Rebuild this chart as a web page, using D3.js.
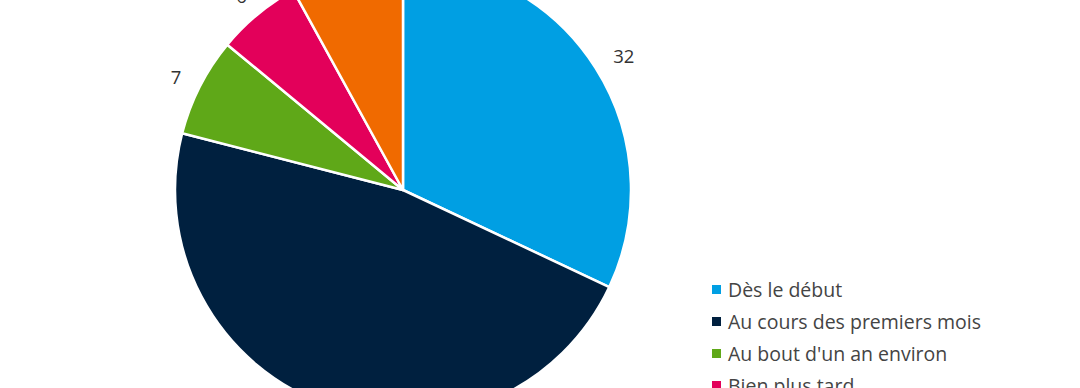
<!DOCTYPE html>
<html><head><meta charset="utf-8">
<script src="https://cdn.jsdelivr.net/npm/d3@7"></script>
<style>body{margin:0;background:#fff;overflow:hidden}</style>
</head><body>
<svg id="c" width="1080" height="388"></svg>
<script>
const categories = ["Dès le début","Au cours des premiers mois","Au bout d'un an environ","Bien plus tard","Jamais"];
const values = [32, 47, 7, 6, 8];
const colors = ["#009FE3","#00203F","#5FA818","#E3005A","#F06A00"];

const svg = d3.select("#c");
const cx = 403, cy = 190, R = 228, Rl = 258;
const pie = d3.pie().sort(null).value(d => d)(values);
const arc = d3.arc().innerRadius(0).outerRadius(R);
const larc = d3.arc().innerRadius(Rl).outerRadius(Rl);
const g = svg.append("g").attr("transform", `translate(${cx},${cy})`);
g.selectAll("path").data(pie).join("path")
  .attr("d", arc).attr("fill", (d,i) => colors[i])
  .attr("stroke", "#fff").attr("stroke-width", 2.5).attr("stroke-linejoin","round");
g.selectAll("text").data(pie).join("text")
  .attr("transform", d => { const c = larc.centroid(d); return `translate(${c[0]+3},${c[1]+5})`; })
  .attr("text-anchor","middle").attr("dy","0.35em")
  .attr("font-family","'Open Sans', sans-serif").attr("font-size",18.5).attr("fill","#333")
  .text(d => d.data);

const lg = svg.append("g").attr("transform","translate(712,290)");
const items = lg.selectAll("g").data(categories).join("g")
  .attr("transform", (d,i) => `translate(0,${i*32})`);
items.append("rect").attr("x",0).attr("y",-5).attr("width",9).attr("height",9)
  .attr("fill",(d,i)=>colors[i]);
items.append("text").attr("x",16).attr("dy","0.35em")
  .attr("font-family","'Open Sans', sans-serif").attr("font-size",19.5).attr("fill","#444")
  .text(d=>d);
</script>
</body></html>
